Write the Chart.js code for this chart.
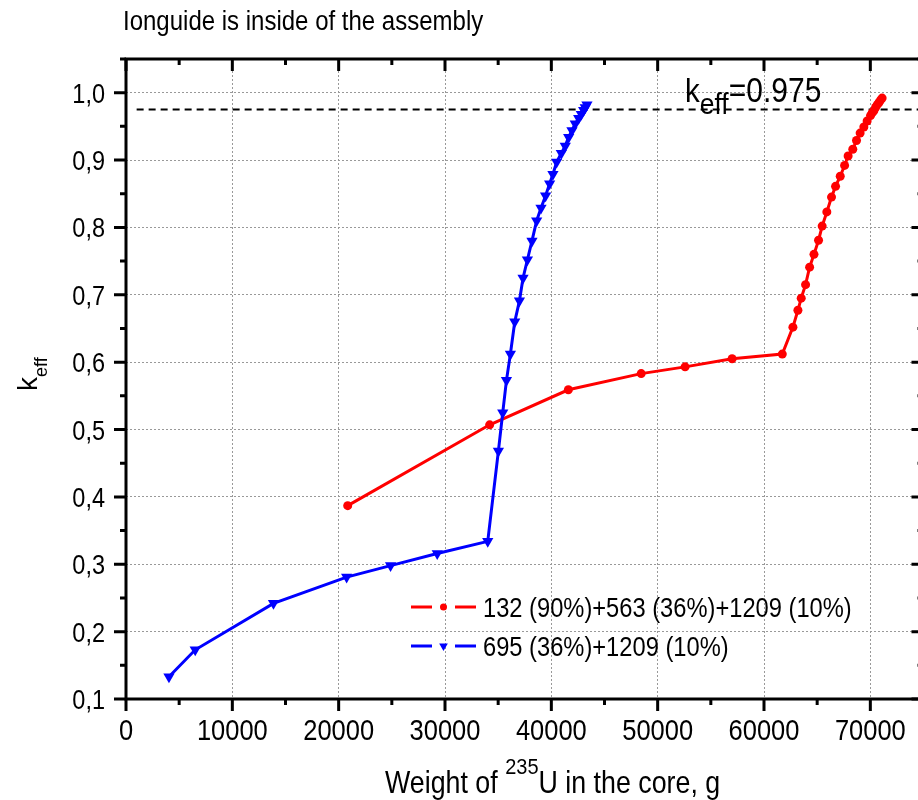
<!DOCTYPE html>
<html>
<head>
<meta charset="utf-8">
<script src="https://cdn.jsdelivr.net/npm/chart.js@4/dist/chart.umd.min.js"></script>
<style>
  html, body { margin: 0; padding: 0; background: #fff; overflow: hidden; }
  #wrap { width: 930px; height: 800px; }
</style>
</head>
<body>
<div id="wrap"><canvas id="chart" width="930" height="800"></canvas></div>
<script>
// series 1: 132 (90%)+563 (36%)+1209 (10%)
const redLabel = '132 (90%)+563 (36%)+1209 (10%)';
const redX = [20850, 34200, 41600, 48450, 52580, 57000, 61720,
  62720, 63190, 63500, 63910, 64290, 64700, 65130, 65470, 65910, 66350, 66730,
  67170, 67580, 67910, 68350, 68700, 69040, 69390, 69700, 70020, 70170, 70330,
  70490, 70640, 70800, 70960, 71110];
const redY = [0.387, 0.507, 0.559, 0.583, 0.593, 0.605, 0.612,
  0.652, 0.677, 0.695, 0.715, 0.741, 0.760, 0.781, 0.802, 0.823, 0.845, 0.861,
  0.876, 0.892, 0.906, 0.916, 0.929, 0.940, 0.949, 0.958, 0.966, 0.970, 0.973,
  0.978, 0.982, 0.985, 0.989, 0.992];

// series 2: 695 (36%)+1209 (10%)
const blueLabel = '695 (36%)+1209 (10%)';
const blueX = [4040, 6510, 13870, 20750, 24880, 29270, 34020,
  35020, 35430, 35780, 36150, 36560, 37000, 37340, 37750, 38180, 38620, 39030,
  39460, 39840, 40150, 40500, 40940, 41310, 41630, 41940, 42250, 42570, 42820,
  43040, 43190, 43350];
const blueY = [0.133, 0.173, 0.242, 0.281, 0.298, 0.316, 0.334,
  0.468, 0.525, 0.573, 0.612, 0.660, 0.691, 0.725, 0.752, 0.780, 0.810, 0.829,
  0.847, 0.865, 0.879, 0.897, 0.910, 0.921, 0.934, 0.944, 0.954, 0.962, 0.968,
  0.974, 0.978, 0.982];

// k_eff = 0.975 reference line
const keffValue = 0.975;
const keffLineX = [1000, 75000];

const xTicks = [0, 10000, 20000, 30000, 40000, 50000, 60000, 70000];
const xMinorTicks = [5000, 15000, 25000, 35000, 45000, 55000, 65000, 75000];
const yTicks = [0.1, 0.2, 0.3, 0.4, 0.5, 0.6, 0.7, 0.8, 0.9, 1.0];
const yMinorTicks = [0.15, 0.25, 0.35, 0.45, 0.55, 0.65, 0.75, 0.85, 0.95, 1.05];

const FONT = '"Liberation Sans", Arial, sans-serif';
const STRETCH = 1.14; // the original text is a bit taller than Arial

const pts = (xs, ys) => xs.map((x, i) => ({ x, y: ys[i] }));

// text drawn a little taller than wide, returns its width
function txt(ctx, s, x, y, size, align) {
  ctx.font = size + 'px ' + FONT;
  ctx.textAlign = align || 'left';
  ctx.save();
  ctx.translate(x, y);
  ctx.scale(1, STRETCH);
  ctx.fillText(s, 0, 0);
  ctx.restore();
  return ctx.measureText(s).width;
}

const framePlugin = {
  id: 'frame',
  afterDraw(chart) {
    const { ctx, chartArea: a, scales: { x, y } } = chart;
    ctx.save();
    ctx.strokeStyle = '#000';
    ctx.lineWidth = 3;
    ctx.beginPath();
    xTicks.forEach(v => {
      const px = x.getPixelForValue(v);
      ctx.moveTo(px, a.bottom); ctx.lineTo(px, a.bottom + 12);
      ctx.moveTo(px, a.top); ctx.lineTo(px, a.top + 12);
    });
    xMinorTicks.forEach(v => {
      const px = x.getPixelForValue(v);
      ctx.moveTo(px, a.bottom); ctx.lineTo(px, a.bottom + 6);
      ctx.moveTo(px, a.top); ctx.lineTo(px, a.top + 6);
    });
    yTicks.forEach(v => {
      const py = y.getPixelForValue(v);
      ctx.moveTo(a.left - 12, py); ctx.lineTo(a.left, py);
      ctx.moveTo(a.right - 12, py); ctx.lineTo(a.right, py);
    });
    yMinorTicks.forEach(v => {
      const py = y.getPixelForValue(v);
      ctx.moveTo(a.left - 6, py); ctx.lineTo(a.left, py);
      ctx.moveTo(a.right - 6, py); ctx.lineTo(a.right, py);
    });
    ctx.stroke();
    ctx.strokeRect(a.left, a.top, a.right - a.left, a.bottom - a.top);

    ctx.fillStyle = '#000';
    ctx.textBaseline = 'alphabetic';

    // tick labels from the scales' own ticks
    x.ticks.forEach(t => txt(ctx, t.label, x.getPixelForValue(t.value), a.bottom + 41, 25.5, 'center'));
    y.ticks.forEach(t => txt(ctx, t.label, a.left - 21, y.getPixelForValue(t.value) + 10, 23.5, 'right'));

    // title
    txt(ctx, 'Ionguide is inside of the assembly', 123, 30, 24);

    // x axis title with superscript
    let tx = 385;
    tx += txt(ctx, 'Weight of ', tx, 793, 26.8);
    tx += txt(ctx, '235', tx, 774, 20);
    txt(ctx, 'U in the core, g', tx, 793, 26.8);

    // y axis title k_eff
    ctx.save();
    ctx.translate(37, 391);
    ctx.rotate(-Math.PI / 2);
    ctx.textAlign = 'left';
    ctx.font = '28px ' + FONT;
    ctx.fillText('k', 0, 0);
    const kw = ctx.measureText('k').width;
    ctx.font = '18px ' + FONT;
    ctx.fillText('eff', kw, 10);
    ctx.restore();

    // k_eff=0.975 annotation
    let kx = 685;
    kx += txt(ctx, 'k', kx, 102, 29.5);
    kx += txt(ctx, 'eff', kx, 114, 26.5);
    txt(ctx, '=' + String(keffValue), kx, 102, 30);

    // legend
    const rows = [chart.data.datasets[0], chart.data.datasets[1]];
    rows.forEach((ds, i) => {
      const ly = 607 + i * 39;
      ctx.strokeStyle = ds.borderColor;
      ctx.lineWidth = 3;
      ctx.beginPath();
      ctx.moveTo(411, ly); ctx.lineTo(432, ly);
      ctx.moveTo(455, ly); ctx.lineTo(476, ly);
      ctx.stroke();
      ctx.fillStyle = ds.borderColor;
      Chart.helpers.drawPoint(ctx, {
        pointStyle: ds.pointStyle, radius: ds.pointStyle === 'circle' ? 3.5 : 5,
        rotation: ds.pointRotation || 0, borderWidth: 0
      }, 443.5, ly);
      ctx.fillStyle = '#000';
      txt(ctx, ds.label, 483, ly + 9.5, 23.7);
    });
    ctx.restore();
  }
};

new Chart(document.getElementById('chart'), {
  type: 'line',
  data: {
    datasets: [
      {
        label: redLabel, data: pts(redX, redY),
        borderColor: '#ff0000', backgroundColor: '#ff0000',
        borderWidth: 3, pointStyle: 'circle', pointRadius: 4.5,
        pointBorderWidth: 0, pointBackgroundColor: '#ff0000', order: 1
      },
      {
        label: blueLabel, data: pts(blueX, blueY),
        borderColor: '#0000ff', backgroundColor: '#0000ff',
        borderWidth: 3, pointStyle: 'triangle', pointRotation: 180, pointRadius: 6.5,
        pointBorderWidth: 0, pointBackgroundColor: '#0000ff', order: 0
      },
      {
        label: 'keff', data: keffLineX.map(x => ({ x, y: keffValue })),
        borderColor: '#000', borderWidth: 2, borderDash: [7, 5],
        pointRadius: 0, order: 2
      }
    ]
  },
  options: {
    responsive: false,
    animation: false,
    layout: { padding: { left: 0, top: 59, right: 5, bottom: 0 } },
    plugins: { legend: { display: false }, tooltip: { enabled: false }, title: { display: false } },
    scales: {
      x: {
        type: 'linear', min: 0, max: 75000,
        afterBuildTicks: s => { s.ticks = xTicks.map(v => ({ value: v })); },
        afterFit: s => { s.height = 101; },
        ticks: { display: false, callback: v => String(v) },
        grid: { color: '#999', lineWidth: 1, drawTicks: false },
        border: { display: false, dash: [2, 2] }
      },
      y: {
        type: 'linear', min: 0.1, max: 1.05,
        afterBuildTicks: s => { s.ticks = yTicks.map(v => ({ value: v })); },
        afterFit: s => { s.width = 126; },
        ticks: { display: false, callback: v => v.toFixed(1).replace('.', ',') },
        grid: { color: '#999', lineWidth: 1, drawTicks: false },
        border: { display: false, dash: [2, 2] }
      }
    }
  },
  plugins: [framePlugin]
});
</script>
</body>
</html>
